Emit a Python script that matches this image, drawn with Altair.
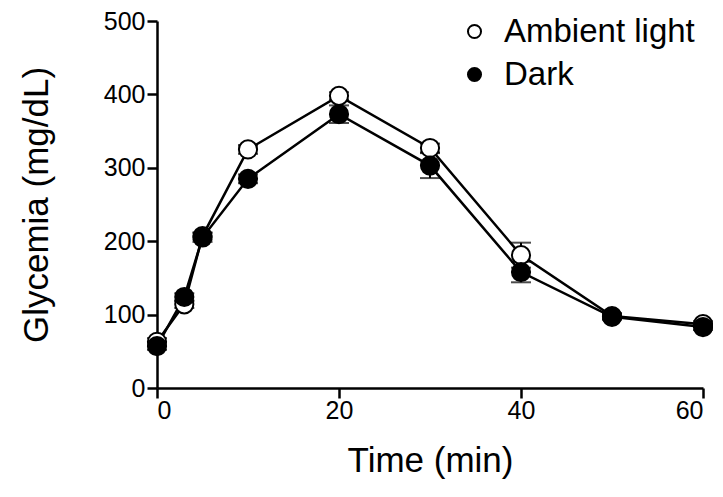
import altair as alt
import pandas as pd

# ---- data ----
times = [0, 3, 5, 10, 20, 30, 40, 50, 60]
ambient_mean = [63, 114, 207, 325, 398, 327, 181, 98, 87]
ambient_sem = [5, 5, 5, 6, 5, 6, 17, 4, 4]
dark_mean = [57, 124, 205, 285, 373, 303, 158, 97, 83]
dark_sem = [5, 5, 6, 6, 12, 17, 14, 4, 4]
groups = ["Ambient light", "Dark"]
x_ticks = [0, 20, 40, 60]
y_ticks = [0, 100, 200, 300, 400, 500]

rows = []
for g, means, sems in [(groups[0], ambient_mean, ambient_sem), (groups[1], dark_mean, dark_sem)]:
    for t, m, s in zip(times, means, sems):
        rows.append({"time": t, "value": m, "lo": m - s, "hi": m + s, "group": g})
df = pd.DataFrame(rows)

FONT = "Liberation Sans"

x = alt.X("time:Q", scale=alt.Scale(domain=[0, 60], nice=False, zero=False),
          axis=alt.Axis(values=x_ticks, title="Time (min)", format="d"))
y = alt.Y("value:Q", scale=alt.Scale(domain=[0, 500], nice=False),
          axis=alt.Axis(values=y_ticks, title="Glycemia (mg/dL)", format="d"))

base = alt.Chart(df)

lines = base.mark_line(color="black", strokeWidth=2.5).encode(
    x=x, y=y, detail="group:N")

err = base.mark_rule(color="black", strokeWidth=2).encode(
    x="time:Q", y="lo:Q", y2="hi:Q")
cap_lo = base.mark_tick(color="black", thickness=2, size=20, orient="horizontal").encode(
    x="time:Q", y="lo:Q")
cap_hi = base.mark_tick(color="black", thickness=2, size=20, orient="horizontal").encode(
    x="time:Q", y="hi:Q")

fill_scale = alt.Scale(domain=groups, range=["white", "black"])
legend = alt.Legend(
    title=None, orient="none", legendX=301, legendY=-6,
    symbolType="circle", symbolSize=170, symbolStrokeColor="black",
    symbolStrokeWidth=2, labelFont=FONT, labelFontSize=33, labelColor="black",
    labelOffset=13, rowPadding=9, padding=0, labelLimit=400,
)

pts_amb = base.transform_filter(alt.datum.group == groups[0]).mark_point(
    shape="circle", filled=True, size=330, stroke="black", strokeWidth=2, opacity=1
).encode(x="time:Q", y="value:Q",
         fill=alt.Fill("group:N", scale=fill_scale, legend=legend))
pts_dark = base.transform_filter(alt.datum.group == groups[1]).mark_point(
    shape="circle", filled=True, size=330, stroke="black", strokeWidth=2, opacity=1
).encode(x="time:Q", y="value:Q",
         fill=alt.Fill("group:N", scale=fill_scale, legend=legend))

chart = alt.layer(lines, err, cap_lo, cap_hi, pts_amb, pts_dark).properties(
    width=546, height=367,
    autosize=alt.AutoSizeParams(type="none"),
    padding={"left": 149, "top": 13, "right": 10, "bottom": 98},
).configure_view(stroke=None).configure_axis(
    grid=False, domainColor="black", domainWidth=2.5, tickColor="black",
    tickWidth=2.5, tickSize=10, labelFont=FONT, labelFontSize=25,
    labelColor="black", titleFont=FONT, titleFontSize=35,
    titleFontWeight="normal", titleColor="black",
).configure_axisX(labelPadding=0, titlePadding=20
).configure_axisY(labelPadding=2, titlePadding=49)

chart.save("out.html", embed_options={"renderer": "svg", "actions": False})
